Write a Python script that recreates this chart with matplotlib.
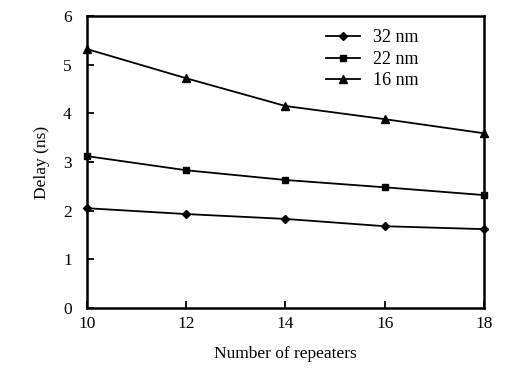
import numpy as np
import matplotlib
matplotlib.use("Agg")
import matplotlib.pyplot as plt

plt.rcParams['font.family'] = ['Liberation Serif', 'DejaVu Serif']

# Data
repeaters = [10, 12, 14, 16, 18]
delay_32nm = [2.05, 1.93, 1.83, 1.68, 1.62]
delay_22nm = [3.12, 2.83, 2.63, 2.48, 2.32]
delay_16nm = [5.32, 4.72, 4.15, 3.88, 3.59]

fig = plt.figure(figsize=(5.07, 3.70), dpi=100)
ax = fig.add_axes([0.1716, 0.1676, 0.7830, 0.7892])

ax.plot(repeaters, delay_32nm, color='black', marker='D', markersize=4, lw=1.3, label='32 nm', clip_on=False)
ax.plot(repeaters, delay_22nm, color='black', marker='s', markersize=5, lw=1.3, label='22 nm', clip_on=False)
ax.plot(repeaters, delay_16nm, color='black', marker='^', markersize=5.5, lw=1.3, label='16 nm', clip_on=False)

ax.set_xlim(10, 18)
ax.set_ylim(0, 6)
ax.set_xticks([10, 12, 14, 16, 18])
ax.set_yticks([0, 1, 2, 3, 4, 5, 6])
ax.tick_params(direction='in', length=5, width=1.3, labelsize=12.5)
ax.tick_params(axis='x', pad=6)
ax.tick_params(axis='y', pad=11)
for s in ax.spines.values():
    s.set_linewidth(1.8)

ax.set_xlabel('Number of repeaters', fontsize=12.5, labelpad=10)
ax.set_ylabel('Delay (ns)', fontsize=12.5, labelpad=9)

ax.legend(loc='upper left', bbox_to_anchor=(0.56, 1.01), frameon=False, fontsize=13,
          handlelength=1.9, labelspacing=0.25, handletextpad=0.7)

fig.savefig('out.png', dpi=100)
